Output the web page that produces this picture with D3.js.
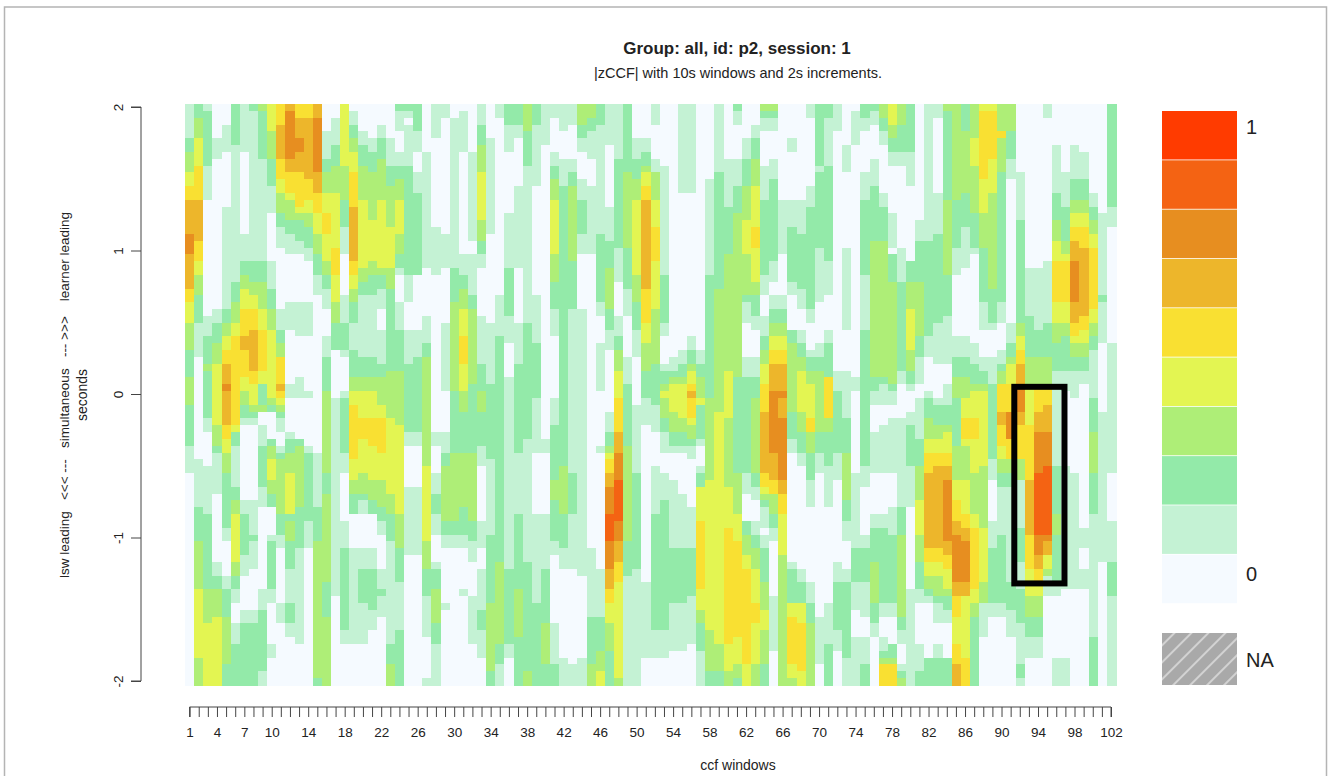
<!DOCTYPE html>
<html>
<head>
<meta charset="utf-8">
<script src="https://cdnjs.cloudflare.com/ajax/libs/d3/7.8.5/d3.min.js"></script>
<style>
html,body{margin:0;padding:0;background:#fff}
svg{display:block}
text{font-family:"Liberation Sans",Arial,sans-serif;fill:#222}
</style>
</head>
<body>
<svg id="chart" width="1328" height="776"></svg>
<script>
const title = "Group: all, id: p2, session: 1";
const subtitle = "|zCCF| with 10s windows and 2s increments.";
const xTitle = "ccf windows";
const yTitle1 = "lsw leading   <<< ---   simultaneous   --- >>>    learner leading";
const yTitle2 = "seconds";
const xTickLabels = [1,4,7,10,14,18,22,26,30,34,38,42,46,50,54,58,62,66,70,74,78,82,86,90,94,98,102];
const yTickLabels = [2,1,0,-1,-2];
const levelColors = ["#f5faff","#c4f2d4","#93eaa9","#aeee77","#e3f552","#f9e032","#edb62b","#e78e20","#f46313","#ff3b00"];
const rowCount = 85;
const highlightWindows = [91.4, 96.9];
const highlightLags = [0.05, -1.32];
// one string per ccf window, top to bottom: "level:rowWhereThatLevelEnds"
const windowRuns = [
"1:5 2:7 3:10 4:12 5:14 6:19 7:22 6:27 5:29 4:32 3:36 2:40 3:44 2:50 1:54 0:85",
"2:2 3:5 4:9 5:14 6:20 5:23 4:25 3:28 2:32 1:37 0:52 1:59 2:64 3:71 4:81 3:85",
"1:1 2:9 1:14 0:31 1:34 2:38 3:39 2:46 1:48 0:53 1:60 2:71 3:76 4:85",
"0:5 1:8 0:30 1:32 2:35 3:38 4:47 3:50 2:51 1:57 0:67 1:69 2:71 3:75 4:85",
"0:3 1:7 0:15 1:30 2:32 3:34 4:36 5:38 6:41 7:42 6:47 5:49 4:51 3:54 2:62 1:64 0:69 1:71 2:75 3:82 2:85",
"2:6 1:26 2:29 3:32 4:34 5:47 4:48 2:50 1:56 2:58 3:60 4:67 3:69 2:71 1:73 0:76 1:79 2:85",
"1:7 0:19 1:23 2:25 3:27 4:30 5:34 6:36 5:40 4:42 3:44 2:46 1:47 0:58 1:60 2:66 1:69 0:74 1:76 2:85",
"2:1 1:23 2:26 3:28 4:30 5:33 6:39 5:41 4:44 3:45 2:46 1:47 0:58 1:63 2:64 1:68 0:74 1:76 2:85",
"3:1 2:8 1:23 2:26 3:30 4:33 5:39 4:41 2:44 3:45 0:47 1:50 2:56 1:59 0:71 1:74 2:83 1:85",
"4:4 3:8 2:12 1:16 0:23 1:27 2:30 3:33 4:43 3:44 2:45 0:49 2:50 3:52 4:55 3:57 2:59 0:63 1:64 2:71 1:73 0:79 1:81 0:85",
"5:3 6:8 5:11 4:13 3:16 2:18 1:21 0:30 1:33 2:35 3:37 5:41 6:42 5:43 4:44 3:45 2:46 1:48 0:50 1:51 2:52 3:60 2:63 1:65 0:73 1:76 0:85",
"6:1 7:8 6:10 5:13 4:14 3:17 2:19 1:22 0:29 1:33 0:41 1:43 0:48 1:49 2:51 3:54 4:60 2:61 3:64 2:68 1:73 2:76 1:78 0:85",
"5:2 6:5 7:7 6:10 5:15 4:16 3:17 2:20 1:22 0:29 1:34 0:40 1:43 0:49 2:50 3:59 2:65 1:79 0:85",
"5:2 6:11 5:14 4:16 3:18 2:21 1:23 0:29 1:34 0:42 1:43 0:50 1:51 2:61 1:65 0:85",
"6:2 7:10 6:13 5:16 4:19 3:22 2:25 1:28 0:51 1:59 2:64 3:84 2:85",
"0:4 1:8 2:10 3:13 4:16 5:19 4:23 3:25 2:27 1:30 0:34 1:37 2:42 3:54 2:57 3:70 2:75 3:85",
"0:2 1:6 2:9 3:13 4:21 5:25 4:29 3:32 2:36 0:43 1:72 0:85",
"4:9 3:14 2:18 1:22 0:28 1:32 2:36 1:37 0:42 1:43 2:51 1:54 0:61 1:65 2:77 1:79 0:85",
"0:1 1:3 2:5 3:7 4:10 5:15 6:23 5:25 4:27 3:29 2:32 1:36 2:40 3:42 4:44 5:52 4:55 3:57 2:60 0:65 1:79 0:85",
"0:4 1:6 2:9 3:14 4:24 3:26 2:28 1:37 2:40 3:42 4:46 5:49 4:54 3:57 2:58 1:60 0:65 1:68 2:73 1:79 0:85",
"0:5 1:7 2:10 3:17 4:23 3:25 2:28 1:37 2:40 3:42 4:46 5:50 4:55 3:58 2:60 0:65 1:68 2:74 1:77 0:85",
"0:3 1:5 2:8 3:14 4:24 3:25 2:27 1:30 0:33 1:38 2:40 3:44 4:46 5:51 4:55 3:59 2:61 1:63 0:68 1:71 2:72 1:75 0:85",
"0:5 1:9 2:12 3:18 4:24 3:27 2:39 3:46 4:57 3:60 2:64 1:79 2:82 3:85",
"2:1 1:4 0:7 1:9 2:11 3:14 4:19 3:22 2:24 1:25 0:29 1:33 2:39 3:47 4:60 3:65 2:70 1:77 2:85",
"2:1 1:2 0:3 1:9 2:25 1:29 0:33 1:38 2:48 1:50 0:56 1:66 0:85",
"2:4 1:7 0:10 1:13 2:25 0:33 1:37 2:48 1:50 0:56 1:66 0:85",
"0:7 1:24 0:31 1:35 2:37 3:53 4:64 3:68 2:72 1:78 0:84 1:85",
"1:5 0:18 1:25 0:48 1:50 0:54 1:57 2:60 1:63 0:67 1:68 2:71 3:76 2:79 1:85",
"1:2 0:19 1:24 0:32 1:42 0:48 1:51 2:53 3:61 2:63 1:65 0:73 1:74 0:85",
"0:2 1:24 2:29 3:42 2:51 3:61 2:63 1:65 0:85",
"0:1 1:7 0:22 1:25 2:27 3:30 4:34 5:38 4:42 3:45 2:51 3:59 2:63 1:65 0:71 1:72 0:85",
"0:7 1:20 0:22 1:28 2:30 3:41 2:51 3:61 2:64 1:67 0:72 1:79 0:85",
"1:3 2:6 3:10 4:17 3:20 2:22 1:24 0:31 1:38 2:42 3:45 2:50 1:53 0:61 1:65 0:68 1:74 2:77 1:81 0:85",
"0:5 1:19 0:32 1:41 2:52 1:63 2:73 3:83 2:85",
"1:2 0:28 1:34 2:67 3:79 2:82 1:85",
"2:3 1:7 0:16 1:24 2:31 1:35 0:40 1:68 2:79 1:81 0:85",
"2:3 1:5 0:12 1:24 0:32 1:38 2:51 1:60 2:71 3:78 2:85",
"3:4 2:9 1:32 2:49 1:67 2:83 3:85",
"2:3 1:12 0:28 1:35 2:43 1:51 0:60 1:73 2:85",
"1:6 0:49 1:51 0:60 1:68 2:76 3:82 2:85",
"1:2 0:7 1:9 2:11 3:14 4:22 3:26 2:30 1:34 0:43 1:47 2:55 3:58 2:64 1:66 0:76 1:82 2:85",
"1:4 0:8 1:12 2:53 3:60 2:65 1:68 0:81 1:85",
"1:3 0:8 1:10 2:12 3:23 2:30 1:54 2:60 1:68 0:82 1:85",
"3:3 2:5 1:7 0:11 1:14 2:19 1:22 0:30 1:69 0:81 1:85",
"3:2 2:4 1:8 0:12 1:22 0:65 1:75 2:82 3:85",
"2:3 1:19 2:29 1:31 0:35 1:42 0:50 1:51 0:68 1:75 2:80 3:83 4:85",
"1:6 0:15 1:20 2:24 3:30 2:33 1:36 0:45 1:48 2:50 3:51 4:52 5:54 6:56 7:60 8:64 7:68 6:71 5:73 4:76 3:80 2:85",
"1:8 2:21 1:26 0:31 1:34 2:36 3:39 4:43 5:48 6:51 7:55 8:61 7:64 6:67 5:70 4:84 3:85",
"2:10 3:21 2:27 1:31 0:37 1:41 2:50 3:64 2:69 1:85",
"0:5 1:8 2:11 3:14 4:25 3:29 2:33 1:37 0:44 1:54 2:68 1:85",
"0:5 1:7 2:9 3:10 4:12 5:14 6:27 5:32 4:35 3:39 2:43 1:47 0:70 1:81 0:85",
"1:3 0:8 1:10 3:14 4:18 5:23 4:30 3:38 2:44 1:48 0:53 1:60 2:77 1:81 0:85",
"0:9 1:25 2:32 1:34 0:38 1:39 2:41 3:42 4:43 3:46 2:48 1:51 0:54 1:58 2:77 1:81 0:85",
"0:37 1:39 2:40 3:41 4:45 3:48 2:50 1:51 0:55 1:65 2:73 1:80 0:85",
"1:13 0:36 1:38 2:40 3:41 4:46 3:48 2:50 1:51 0:57 1:65 2:73 1:80 0:85",
"1:13 0:34 1:36 2:38 3:39 4:41 5:42 6:43 5:46 4:47 3:49 2:50 1:52 0:59 1:65 2:72 1:79 0:85",
"0:36 1:38 2:40 3:43 4:44 2:49 1:50 0:53 1:54 2:56 4:61 5:71 4:74 3:76 2:80 1:85",
"0:11 1:25 2:43 3:55 4:77 3:83 2:85",
"1:10 2:27 3:45 4:79 3:83 2:85",
"0:8 1:15 2:22 3:39 4:46 3:56 4:62 5:79 4:83 3:85",
"2:1 1:3 0:8 1:12 2:16 3:40 2:54 3:60 4:64 5:78 4:82 3:84 2:85",
"0:5 1:8 2:12 3:17 4:22 3:28 2:29 1:32 0:37 1:40 2:54 1:57 0:61 2:63 3:66 4:68 5:82 4:85",
"0:3 1:5 2:8 3:12 4:18 5:21 4:26 3:28 2:31 1:33 0:37 1:40 2:43 3:54 2:56 1:58 0:61 1:63 2:65 3:68 4:73 5:76 4:82 3:85",
"3:1 2:2 1:4 0:9 1:14 2:25 1:28 0:31 1:34 2:36 3:38 4:41 5:45 6:54 5:56 4:57 3:58 2:59 1:62 0:63 1:65 2:70 3:74 4:77 3:82 2:85",
"3:1 2:2 1:4 0:8 1:11 2:23 1:26 0:28 1:30 2:32 3:34 4:36 5:38 6:42 7:51 6:55 5:57 3:60 2:62 1:64 0:72 1:80 0:85",
"0:14 1:22 0:28 1:30 2:32 3:34 4:36 5:38 6:42 7:43 6:46 7:55 6:57 5:60 4:66 3:85",
"0:5 1:7 0:14 1:18 2:26 1:28 0:33 2:35 3:45 2:49 1:51 0:67 1:68 2:73 4:75 5:82 4:84 3:85",
"0:14 1:19 2:27 1:30 0:33 1:35 2:37 3:39 4:45 3:48 2:51 1:53 0:68 1:70 2:73 4:76 5:83 4:85",
"1:2 0:12 1:15 2:30 1:32 0:36 1:37 2:39 3:41 4:46 5:48 3:51 2:55 1:59 0:70 1:73 2:76 3:85",
"2:9 1:10 2:21 1:29 0:35 1:37 2:39 3:48 2:51 1:54 0:75 1:82 0:85",
"2:2 1:9 2:23 1:28 0:33 1:35 2:40 5:46 3:48 2:53 1:59 0:73 1:79 2:85",
"1:4 0:39 1:42 2:51 1:55 0:67 1:70 2:77 1:80 0:85",
"0:6 1:10 0:21 1:33 0:39 1:46 2:51 3:58 2:61 1:64 0:68 1:70 2:81 1:85",
"0:1 1:6 0:40 1:42 0:54 1:65 2:70 1:74 0:78 1:85",
"2:2 1:4 0:10 1:14 2:25 1:33 2:53 1:56 0:63 1:65 2:70 1:75 0:78 1:82 2:85",
"2:1 1:3 0:8 1:12 2:20 3:40 2:42 1:44 0:48 1:54 0:60 1:62 2:67 3:73 2:76 1:78 0:85",
"3:2 2:4 1:6 0:13 1:15 2:20 3:40 2:41 1:44 0:47 1:54 0:60 1:62 2:73 1:75 0:78 1:80 2:81 3:82 5:85",
"4:3 3:5 2:7 1:9 0:16 1:21 0:22 2:26 3:41 2:42 1:44 0:46 1:54 0:59 1:63 2:73 1:75 0:79 2:81 3:82 5:85",
"3:3 2:7 1:9 0:21 1:26 2:39 1:41 0:46 1:59 2:63 3:75 2:77 1:79 0:82 1:83 2:84 3:85",
"2:7 1:12 0:23 2:26 3:30 4:36 3:39 2:41 1:42 0:45 1:47 2:53 1:59 0:71 1:85",
"0:17 1:20 2:26 3:34 2:37 1:41 0:43 1:49 2:53 3:58 4:63 3:67 2:71 1:73 0:79 1:83 2:85",
"1:20 2:34 1:37 0:42 1:43 2:46 3:49 4:51 5:54 6:65 5:67 4:69 3:71 2:72 1:73 0:81 2:85",
"1:2 0:13 1:19 2:32 1:38 0:43 1:44 2:47 3:49 4:51 5:53 6:65 5:67 4:69 3:72 2:73 1:76 0:79 1:81 2:85",
"3:1 2:14 3:25 2:31 1:38 0:41 1:44 2:47 3:48 4:51 5:53 6:55 7:64 6:66 5:68 4:71 3:72 2:74 1:76 0:81 2:85",
"3:14 2:21 1:25 0:34 1:37 2:40 3:43 2:50 3:55 4:58 5:61 6:63 7:70 6:72 5:75 4:79 5:82 6:85",
"2:4 3:13 2:18 1:24 0:34 1:37 2:40 3:43 4:46 5:49 4:50 3:55 4:60 5:62 6:64 7:70 6:72 4:81 5:85",
"3:5 4:9 3:16 2:21 1:22 0:35 1:38 2:41 3:42 4:46 5:49 4:54 3:60 4:62 5:71 4:73 3:75 2:85",
"4:1 5:11 4:16 3:21 2:29 1:33 0:37 1:39 2:41 3:42 4:53 3:62 4:70 3:73 1:78 0:85",
"4:1 5:8 4:13 3:27 2:32 1:33 0:37 1:41 2:52 1:55 0:61 1:65 2:73 1:75 0:85",
"3:4 5:5 3:10 2:29 1:32 0:36 1:38 2:39 3:41 5:45 6:47 5:50 4:52 3:54 2:56 1:63 2:73 1:75 0:85",
"3:4 2:8 1:11 0:32 1:35 2:37 3:38 4:41 5:45 7:49 5:52 3:54 2:56 1:70 2:74 1:78 0:85",
"0:10 1:17 2:32 3:34 4:36 5:38 6:41 7:45 6:47 5:52 3:55 1:62 2:67 1:71 2:76 1:82 2:84 1:85",
"0:24 1:31 2:37 3:41 4:47 5:55 6:63 5:68 4:72 3:75 2:78 1:81 0:85",
"0:24 1:33 2:37 3:41 5:45 6:48 7:54 8:63 7:66 6:68 5:70 4:72 3:75 2:78 1:81 0:85",
"1:2 0:23 1:32 2:37 3:41 5:44 6:48 7:53 8:63 7:64 6:66 4:68 3:69 1:72 0:85",
"0:6 1:13 2:17 3:20 4:23 5:29 4:32 3:35 2:39 1:53 2:60 3:63 2:70 1:72 0:81 1:85",
"0:10 1:15 2:20 3:22 4:23 5:29 4:32 3:34 2:39 1:42 0:53 1:71 0:81 1:85",
"0:6 1:11 2:14 3:16 4:18 5:20 6:23 7:29 6:32 5:34 4:35 3:37 2:39 1:43 0:54 1:71 0:85",
"0:7 1:11 2:14 3:16 4:18 5:21 6:31 5:33 4:35 3:37 2:39 1:41 0:62 1:65 0:68 1:71 0:85",
"0:13 1:15 2:17 3:19 4:21 5:30 4:32 3:34 2:36 1:43 2:48 3:54 2:60 1:78 2:85",
"0:16 1:28 2:29 1:35 0:45 1:67 0:85",
"2:15 1:18 0:35 1:54 0:61 1:67 2:72 1:85"
];

const windows = windowRuns.map((_, i) => i + 1);
const rows = d3.range(rowCount);
const cells = [];
windowRuns.forEach((runs, i) => {
  let r = 0;
  runs.split(" ").forEach(run => {
    const [level, end] = run.split(":").map(Number);
    for (; r < end; r++) cells.push({win: windows[i], row: r, level});
  });
});

const svg = d3.select("#chart");
const x = d3.scaleBand().domain(windows).range([185, 1116]);
const yRow = d3.scaleBand().domain(rows).range([104, 685]);
const xPos = d3.scaleLinear().domain([1, 102]).range([189.6, 1111]);
const yLag = d3.scaleLinear().domain([-2, 2]).range([681, 107]);
const color = d3.scaleOrdinal().domain(d3.range(levelColors.length)).range(levelColors);
const legendY = d3.scaleBand().domain(d3.range(levelColors.length - 1, -1, -1)).range([111, 604]);

// frame of the figure
svg.append("path").attr("d", "M4.5,776V7H1326.5V776").attr("fill", "none").attr("stroke", "#b4b4b4").attr("stroke-width", 1.5);

svg.append("g").attr("shape-rendering", "crispEdges").selectAll("rect").data(cells).join("rect")
  .attr("x", d => x(d.win))
  .attr("y", d => yRow(d.row))
  .attr("width", x.bandwidth() + 0.6)
  .attr("height", yRow.bandwidth() + 0.6)
  .attr("fill", d => color(d.level));

// highlight box
svg.append("rect")
  .attr("x", xPos(highlightWindows[0])).attr("y", yLag(highlightLags[0]))
  .attr("width", xPos(highlightWindows[1]) - xPos(highlightWindows[0]))
  .attr("height", yLag(highlightLags[1]) - yLag(highlightLags[0]))
  .attr("fill", "none").attr("stroke", "#000").attr("stroke-width", 6);

// axes
const axisBottom = d3.axisBottom(xPos).tickValues(windows).tickSize(10).tickPadding(10)
  .tickFormat(d => xTickLabels.includes(d) ? d : "");
const gx = svg.append("g").attr("transform", "translate(0,707)").call(axisBottom);
gx.selectAll("path,line").attr("stroke", "#444").attr("stroke-width", 1);
gx.select("path").attr("d", `M${xPos(1)},10V0H${xPos(102)}V10`);
gx.selectAll("text").style("font-size", "13.5px").attr("fill", "#222");

const axisLeft = d3.axisLeft(yLag).tickValues(yTickLabels).tickSize(10).tickFormat(d => String(d));
const gy = svg.append("g").attr("transform", "translate(141,0)").call(axisLeft);
gy.selectAll("path,line").attr("stroke", "#444").attr("stroke-width", 1);
gy.select("path").attr("d", `M-10,${yLag(2)}H0V${yLag(-2)}H-10`);
gy.selectAll("text").style("font-size", "13.5px").attr("fill", "#222")
  .attr("x", 0).attr("y", 0).attr("dy", "0.35em").attr("text-anchor", "middle")
  .attr("transform", "translate(-23,0) rotate(-90)");

// titles
svg.append("text").attr("x", 737).attr("y", 54).attr("text-anchor", "middle")
  .style("font-size", "17px").style("font-weight", "bold").attr("fill", "#111").text(title);
svg.append("text").attr("x", 738).attr("y", 78).attr("text-anchor", "middle")
  .style("font-size", "14.5px").text(subtitle);
svg.append("text").attr("x", 738).attr("y", 770).attr("text-anchor", "middle")
  .style("font-size", "14px").text(xTitle);
svg.append("text").attr("transform", "translate(69,395) rotate(-90)").attr("text-anchor", "middle")
  .attr("xml:space", "preserve").style("white-space", "pre")
  .style("font-size", "13.5px").text(yTitle1);
svg.append("text").attr("transform", "translate(87,395) rotate(-90)").attr("text-anchor", "middle")
  .style("font-size", "14px").text(yTitle2);

// legend
svg.append("g").selectAll("rect").data(d3.range(levelColors.length)).join("rect")
  .attr("x", 1162).attr("y", d => legendY(d))
  .attr("width", 75).attr("height", legendY.bandwidth() - 0.8)
  .attr("fill", d => color(d));
const defs = svg.append("defs");
const pat = defs.append("pattern").attr("id", "na").attr("patternUnits", "userSpaceOnUse")
  .attr("width", 12).attr("height", 12).attr("patternTransform", "rotate(45)");
pat.append("rect").attr("width", 12).attr("height", 12).attr("fill", "#a9a9a9");
pat.append("line").attr("x1", 6).attr("x2", 6).attr("y1", 0).attr("y2", 12).attr("stroke", "#eee").attr("stroke-width", 1.2);
svg.append("rect").attr("x", 1162).attr("y", 633).attr("width", 75).attr("height", 52).attr("fill", "url(#na)");
const legendLabels = [["1", 134], ["0", 581], ["NA", 667]];
svg.append("g").selectAll("text").data(legendLabels).join("text")
  .attr("x", 1246).attr("y", d => d[1]).style("font-size", "20px").attr("fill", "#111").text(d => d[0]);
</script>
</body>
</html>
